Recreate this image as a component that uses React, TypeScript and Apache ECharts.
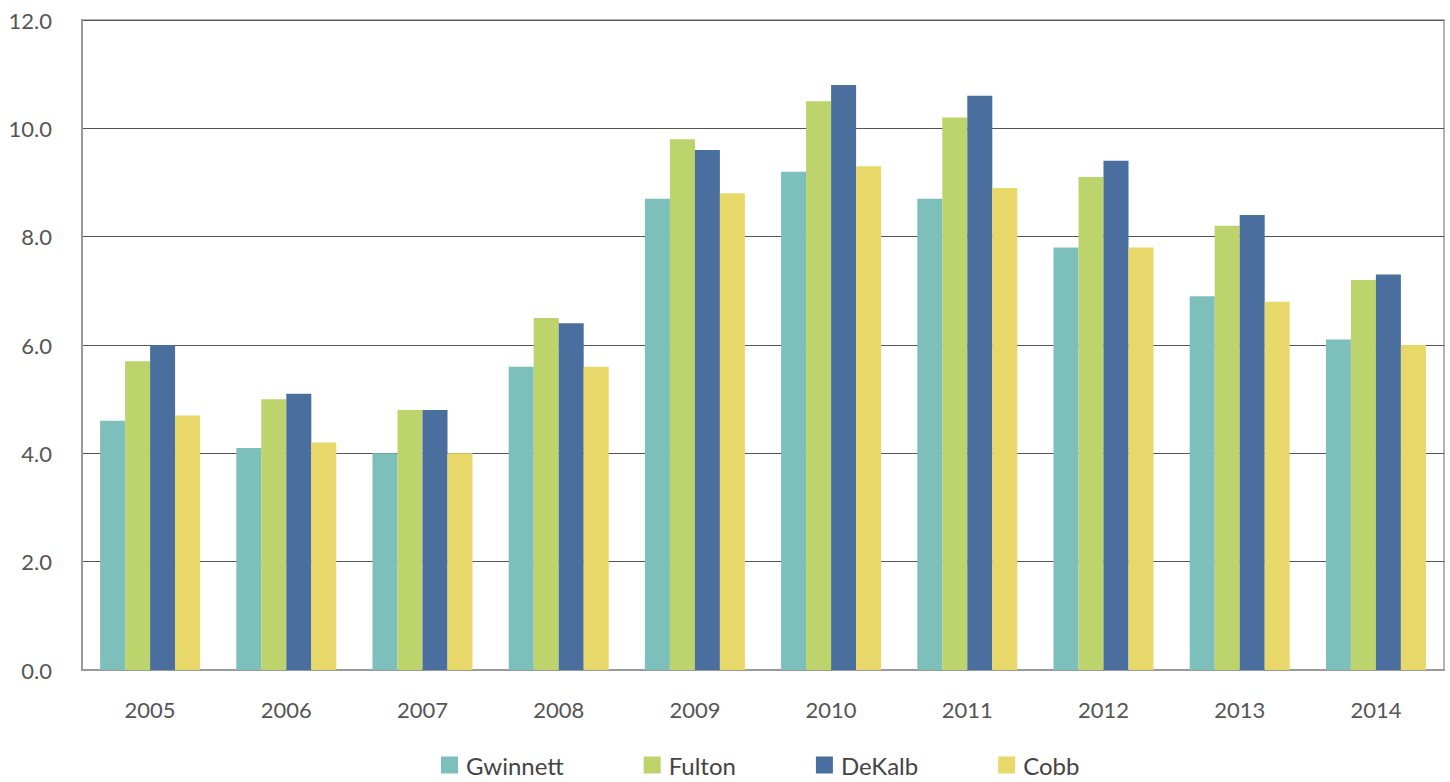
import React, { useEffect, useRef } from "react";
import * as echarts from "echarts";

const years = ["2005", "2006", "2007", "2008", "2009", "2010", "2011", "2012", "2013", "2014"];
const gwinnett = [4.6, 4.1, 4.0, 5.6, 8.7, 9.2, 8.7, 7.8, 6.9, 6.1];
const fulton = [5.7, 5.0, 4.8, 6.5, 9.8, 10.5, 10.2, 9.1, 8.2, 7.2];
const dekalb = [6.0, 5.1, 4.8, 6.4, 9.6, 10.8, 10.6, 9.4, 8.4, 7.3];
const cobb = [4.7, 4.2, 4.0, 5.6, 8.8, 9.3, 8.9, 7.8, 6.8, 6.0];

const seriesNames = ["Gwinnett", "Fulton", "DeKalb", "Cobb"];
const seriesData = [gwinnett, fulton, dekalb, cobb];
const colors = ["#7DBFBB", "#BDD36B", "#4A6F9E", "#E8D86A"];

const FONT = "Lato, 'Open Sans', sans-serif";

export default function App() {
  const ref = useRef<HTMLDivElement>(null);
  useEffect(() => {
    document.body.style.margin = "0";
    const chart = echarts.init(ref.current!, null, { renderer: "svg" });
    chart.setOption({
      animation: false,
      backgroundColor: "#ffffff",
      textStyle: { fontFamily: FONT },
      grid: {
        left: 82,
        right: 6,
        top: 20,
        bottom: 112,
        show: true,
        borderColor: "#9a9a9a",
        borderWidth: 1.5,
      },
      legend: {
        bottom: 0,
        left: 436,
        itemWidth: 17,
        itemHeight: 17,
        itemGap: 80,
        icon: "rect",
        textStyle: { fontSize: 24, color: "#444", fontFamily: FONT, padding: [0, 0, 0, 3] },
        data: seriesNames,
      },
      xAxis: {
        type: "category",
        data: years,
        axisLine: { show: true, lineStyle: { color: "#9a9a9a", width: 2 } },
        axisTick: { show: false },
        axisLabel: { fontSize: 22, color: "#555", margin: 28, fontFamily: FONT },
        splitLine: { show: false },
      },
      yAxis: {
        type: "value",
        min: 0,
        max: 12,
        interval: 2,
        axisLine: { show: true, lineStyle: { color: "#9a9a9a", width: 2 } },
        axisTick: { show: false },
        axisLabel: {
          fontSize: 22,
          color: "#555",
          margin: 30,
          fontFamily: FONT,
          formatter: (v: number) => v.toFixed(1),
        },
        splitLine: { show: true, lineStyle: { color: "#555", width: 1 } },
      },
      series: seriesNames.map((name, i) => ({
        name,
        type: "bar",
        data: seriesData[i],
        barWidth: 25,
        barGap: "0%",
        itemStyle: { color: colors[i] },
      })),
    });
    return () => chart.dispose();
  }, []);
  return <div ref={ref} style={{ width: 1450, height: 782 }} />;
}
